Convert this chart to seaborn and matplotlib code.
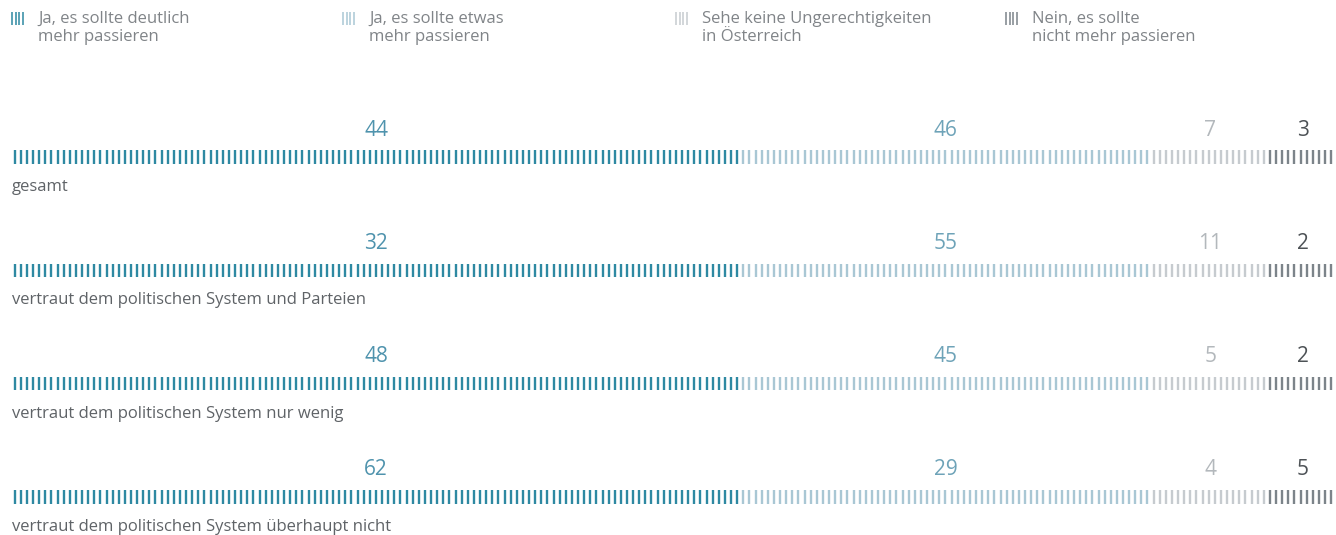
"""Tick-stripe stacked bars: fairness perception by trust in the political system."""

import matplotlib.pyplot as plt
import numpy as np
import pandas as pd
import seaborn as sns

# answer categories (legend)
categories = [
    "Ja, es sollte deutlich\nmehr passieren",
    "Ja, es sollte etwas\nmehr passieren",
    "Sehe keine Ungerechtigkeiten\nin Österreich",
    "Nein, es sollte\nnicht mehr passieren",
]
groups = [
    "gesamt",
    "vertraut dem politischen System und Parteien",
    "vertraut dem politischen System nur wenig",
    "vertraut dem politischen System überhaupt nicht",
]
values = [
    [44, 46, 7, 3],
    [32, 55, 11, 2],
    [48, 45, 5, 2],
    [62, 29, 4, 5],
]
# segment widths as drawn in the original (identical for every row)
shares = [55, 31, 9, 5]

tick_colors = ["#2e89a2", "#a9c7d4", "#c6cbcf", "#7c848a"]
label_colors = ["#4f93ad", "#6ea3b8", "#b3b8bc", "#4d5256"]

W, H = 1336, 535
LEFT = 12
ROW_Y0, ROW_STEP = 157, 113.3
TICK_STEP = 0.4625


def build_ticks() -> pd.DataFrame:
    edges = np.concatenate([[0], np.cumsum(shares)])
    xs = np.arange(0.2, 100, TICK_STEP)
    seg = np.clip(np.searchsorted(edges, xs, side="right") - 1, 0, len(shares) - 1)
    rows = []
    for r in range(len(groups)):
        rows.append(pd.DataFrame({"x": xs, "row": r, "segment": seg}))
    return pd.concat(rows, ignore_index=True)


def main() -> None:
    sns.set_theme(style="white")
    plt.rcParams["font.family"] = ["Open Sans", "DejaVu Sans"]

    fig = plt.figure(figsize=(W / 100, H / 100), dpi=100)
    ax = fig.add_axes([LEFT / W, 0, (W - LEFT) / W, 1])
    ax.set_xlim(0, 100)
    ax.set_ylim((H - ROW_Y0) / ROW_STEP, -ROW_Y0 / ROW_STEP)
    ax.axis("off")

    ticks = build_ticks()
    sns.scatterplot(
        data=ticks, x="x", y="row", hue="segment", palette=tick_colors,
        marker="|", s=95, linewidth=1.7, legend=False, ax=ax,
    )

    edges = np.concatenate([[0], np.cumsum(shares)])
    centers = (edges[:-1] + edges[1:]) / 2
    for r, (group, vals) in enumerate(zip(groups, values)):
        for c, v in enumerate(vals):
            ax.text(centers[c], r - 27 / ROW_STEP, str(v), ha="center", va="center",
                    fontsize=15, color=label_colors[c])
        ax.text(0, r + 30 / ROW_STEP, group, ha="left", va="center",
                fontsize=12, color="#5f6367")

    # legend across the top, in pixel coordinates
    lax = fig.add_axes([0, 0, 1, 1], zorder=-1)
    lax.set_xlim(0, W)
    lax.set_ylim(H, 0)
    lax.axis("off")
    legend_x = [12, 343, 676, 1006]
    for x0, label, color in zip(legend_x, categories, tick_colors):
        lax.vlines(x0 + np.arange(4) * 3.6, 12, 25, color=color, linewidth=1.1)
        lax.text(x0 + 26, 11, label, ha="left", va="top", fontsize=12,
                 color="#808488", linespacing=1.2)

    fig.savefig("out.png", dpi=100)
    plt.close(fig)


if __name__ == "__main__":
    main()
